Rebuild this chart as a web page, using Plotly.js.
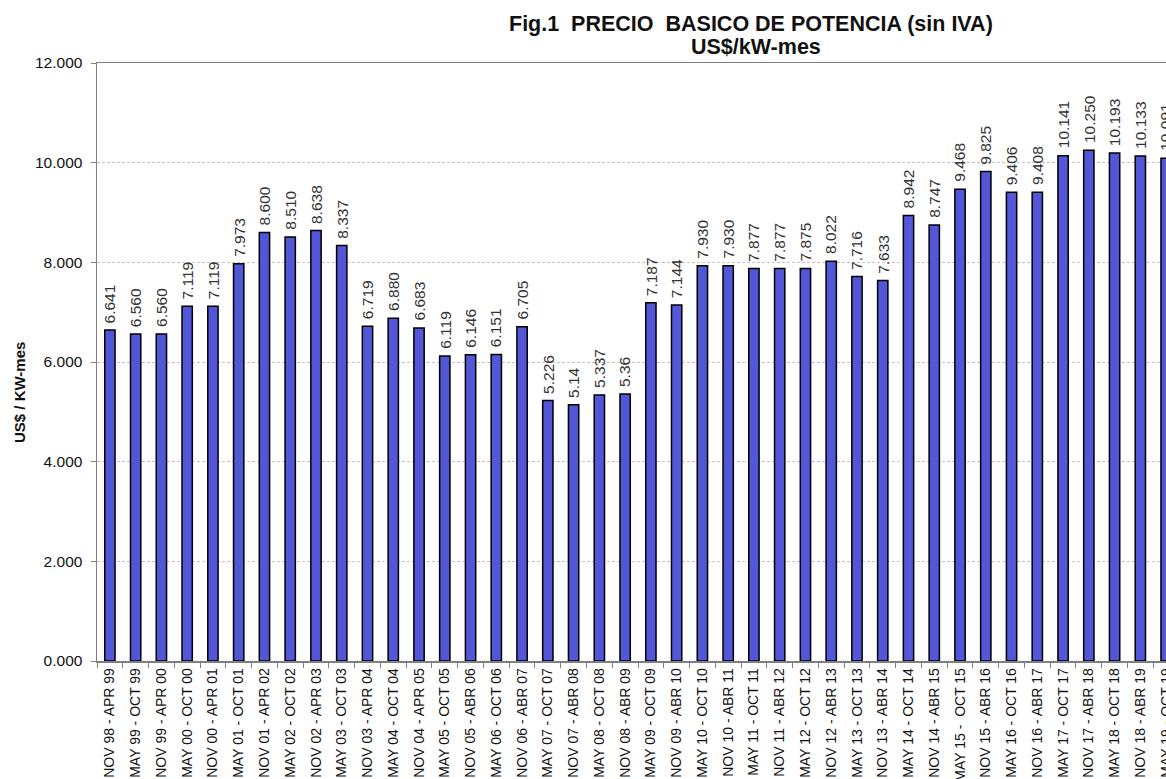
<!DOCTYPE html>
<html>
<head>
<meta charset="utf-8">
<script src="https://cdn.plot.ly/plotly-3.0.1.min.js"></script>
<style>
html,body{margin:0;padding:0;overflow:hidden;background:#fff;width:1166px;height:779px;}
#chart{width:1200px;height:779px;}
</style>
</head>
<body>
<div id="chart"></div>
<script>
const categories = [
  "NOV 98 - APR 99","MAY 99 - OCT 99","NOV 99 - APR 00","MAY 00 - OCT 00","NOV 00 - APR 01",
  "MAY 01 - OCT 01","NOV 01 - APR 02","MAY 02 - OCT 02","NOV 02 - APR 03","MAY 03 - OCT 03",
  "NOV 03 - APR 04","MAY 04 - OCT 04","NOV 04 - APR 05","MAY 05 - OCT 05","NOV 05 - ABR 06",
  "MAY 06 - OCT 06","NOV 06 - ABR 07","MAY 07 - OCT 07","NOV 07 - ABR 08","MAY 08 - OCT 08",
  "NOV 08 - ABR 09","MAY 09 - OCT 09","NOV 09 - ABR 10","MAY 10 - OCT 10","NOV 10 - ABR 11",
  "MAY 11 - OCT 11","NOV 11 - ABR 12","MAY 12 - OCT 12","NOV 12 - ABR 13","MAY 13 - OCT 13",
  "NOV 13 - ABR 14","MAY 14 - OCT 14","NOV 14 - ABR 15","MAY 15 -\u00a0 OCT 15","NOV 15 - ABR 16",
  "MAY 16 - OCT 16","NOV 16 - ABR 17","MAY 17 - OCT 17","NOV 17 - ABR 18","MAY 18 - OCT 18",
  "NOV 18 - ABR 19","MAY 19 - OCT 19"
];
const prices = [
  6.641, 6.560, 6.560, 7.119, 7.119, 7.973, 8.600, 8.510, 8.638, 8.337,
  6.719, 6.880, 6.683, 6.119, 6.146, 6.151, 6.705, 5.226, 5.14, 5.337,
  5.36, 7.187, 7.144, 7.930, 7.930, 7.877, 7.877, 7.875, 8.022, 7.716,
  7.633, 8.942, 8.747, 9.468, 9.825, 9.406, 9.408, 10.141, 10.250, 10.193,
  10.133, 10.091
];
const priceLabels = [
  "6.641","6.560","6.560","7.119","7.119","7.973","8.600","8.510","8.638","8.337",
  "6.719","6.880","6.683","6.119","6.146","6.151","6.705","5.226","5.14","5.337",
  "5.36","7.187","7.144","7.930","7.930","7.877","7.877","7.875","8.022","7.716",
  "7.633","8.942","8.747","9.468","9.825","9.406","9.408","10.141","10.250","10.193",
  "10.133","10.091"
];
const yTickVals = [0, 2, 4, 6, 8, 10, 12];
const yTickText = ["0.000","2.000","4.000","6.000","8.000","10.000","12.000"];

const FONT = '"Liberation Sans", Arial, sans-serif';

const trace = {
  type: 'bar',
  x: categories,
  y: prices,
  width: 0.40,
  marker: {color: '#5157d6', line: {color: '#000', width: 1.5}},
  hoverinfo: 'x+y'
};

const L = 97, R = 21, T = 63, B = 118;
const W = 1200, H = 779;
const pw = W - L - R, ph = H - T - B;
function px(x){ return (x - L) / pw; }
function py(y){ return (H - B - y) / ph; }

const valueLabels = categories.map((c, i) => ({
  x: c, y: prices[i], xref: 'x', yref: 'y',
  text: priceLabels[i], textangle: -90,
  xanchor: 'center', yanchor: 'bottom', yshift: 6,
  showarrow: false, borderpad: 0,
  font: {family: FONT, size: 15.5, color: '#333'}
}));

const layout = {
  width: W, height: H,
  margin: {l: L, r: R, t: T, b: B, pad: 0},
  paper_bgcolor: '#fff',
  plot_bgcolor: '#fff',
  showlegend: false,
  font: {family: FONT, size: 15, color: '#111'},
  xaxis: {
    type: 'category',
    range: [-0.5, 41.5],
    tickangle: -90,
    tickfont: {family: FONT, size: 14, color: '#111'},
    ticks: 'outside', ticklen: 5, tickcolor: '#808080', tickwidth: 1,
    tickson: 'boundaries',
    showline: true, linecolor: '#808080', linewidth: 1.5, mirror: true,
    showgrid: false, automargin: false, fixedrange: true
  },
  yaxis: {
    range: [0, 12],
    tickvals: yTickVals, ticktext: yTickText,
    tickfont: {family: FONT, size: 15.5, color: '#111'},
    ticks: 'outside', ticklen: 5, tickcolor: '#808080', tickwidth: 1,
    ticklabelstandoff: 5,
    showline: true, linecolor: '#808080', linewidth: 1.5, mirror: true,
    showgrid: true, gridcolor: '#c4c4c4', gridwidth: 1, griddash: '3px,2px',
    zeroline: false, automargin: false, fixedrange: true
  },
  annotations: valueLabels.concat([
    {text: '<b>Fig.1 \u00a0PRECIO \u00a0BASICO DE POTENCIA (sin IVA)</b>', xref: 'paper', yref: 'paper',
     x: px(751), y: py(24), xanchor: 'center', yanchor: 'middle', showarrow: false,
     font: {family: FONT, size: 21.5, color: '#111'}},
    {text: '<b>US$/kW-mes</b>', xref: 'paper', yref: 'paper',
     x: px(756), y: py(47), xanchor: 'center', yanchor: 'middle', showarrow: false,
     font: {family: FONT, size: 21.5, color: '#111'}},
    {text: '<b>US$ / KW-mes</b>', xref: 'paper', yref: 'paper',
     x: px(19), y: py(393), xanchor: 'center', yanchor: 'middle', showarrow: false,
     textangle: -90, font: {family: FONT, size: 15, color: '#111'}}
  ])
};

Plotly.newPlot('chart', [trace], layout, {displayModeBar: false, staticPlot: true});
</script>
</body>
</html>
